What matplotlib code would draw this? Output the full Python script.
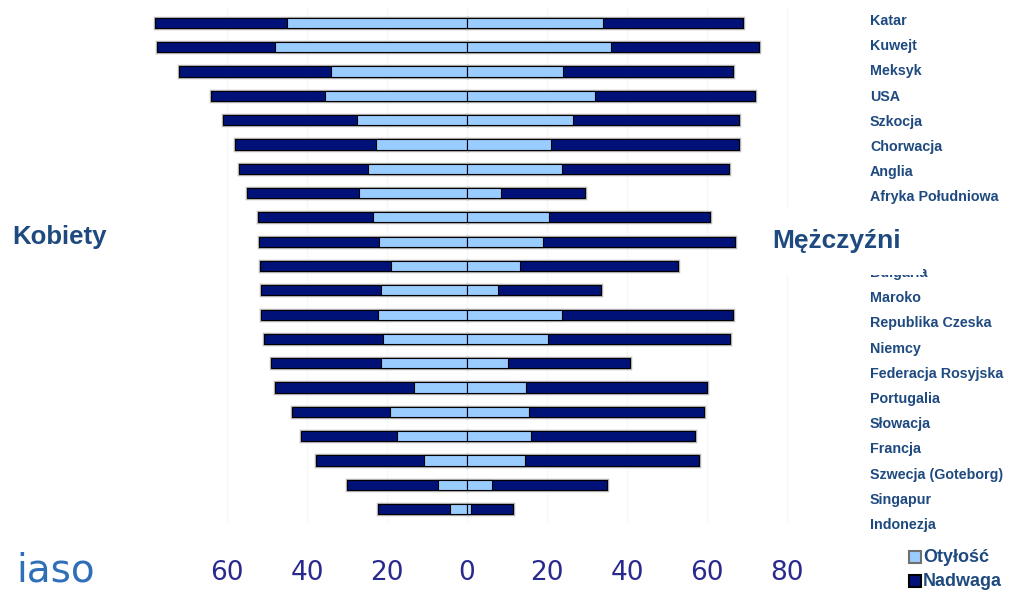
import numpy as np
import matplotlib.pyplot as plt
import matplotlib.patheffects as pe

# Data (percent)
countries = ["Katar", "Kuwejt", "Meksyk", "USA", "Szkocja", "Chorwacja", "Anglia",
             "Afryka Południowa", "", "", "Bułgaria", "Maroko", "Republika Czeska",
             "Niemcy", "Federacja Rosyjska", "Portugalia", "Słowacja", "Francja",
             "Szwecja (Goteborg)", "Singapur", "Indonezja"]
women_overweight = [78, 77.5, 72, 64, 61, 58, 57, 55, 52.3, 52, 51.7, 51.5, 51.5,
                    50.7, 49, 48, 43.8, 41.5, 37.8, 30, 22.2]
women_obese = [45, 48, 34, 35.5, 27.5, 22.7, 24.7, 27, 23.5, 22, 19, 21.5, 22.2,
               21, 21.5, 13.3, 19.2, 17.4, 10.8, 7.2, 4.2]
men_overweight = [69, 73, 66.5, 72, 68, 68, 65.5, 29.5, 60.7, 67, 52.8, 33.5, 66.5,
                  65.7, 40.8, 60, 59.3, 57, 58, 35, 11.5]
men_obese = [34, 36, 24, 32, 26.5, 21, 23.7, 8.5, 20.5, 19, 13.2, 7.8, 23.7,
             20.2, 10.2, 14.8, 15.5, 16, 14.5, 6.3, 1]
ticks = [-60, -40, -20, 0, 20, 40, 60, 80]

navy = "#001277"
light = "#99CCFF"
text_blue = "#1F4A80"

fig = plt.figure(figsize=(10.24, 5.92), dpi=100)
ax = fig.add_axes([139 / 1024, 1 - 523.6 / 592, 656 / 1024, (523.6 - 8.4) / 592])

y = np.arange(len(countries))
h = 0.42
shadow = [pe.Stroke(linewidth=2.5, foreground="#b8b8b8"), pe.Normal()]

ax.barh(y, -np.array(women_overweight), height=h, color=navy, edgecolor="black",
        linewidth=0.8, path_effects=shadow, zorder=2)
ax.barh(y, -np.array(women_obese), height=h, color=light, edgecolor="black",
        linewidth=0.8, zorder=3)
ax.barh(y, men_overweight, height=h, color=navy, edgecolor="black",
        linewidth=0.8, path_effects=shadow, zorder=2)
ax.barh(y, men_obese, height=h, color=light, edgecolor="black",
        linewidth=0.8, zorder=3)

ax.set_xlim(-82, 82)
ax.set_ylim(len(countries) - 0.4, -0.6)
ax.set_xticks(ticks)
ax.set_xticklabels([str(abs(t)) for t in ticks], fontsize=19, color="#2A2A8C",
                   family="DejaVu Sans")
ax.tick_params(axis="x", length=0, pad=26)
ax.set_yticks([])
for s in ax.spines.values():
    s.set_visible(False)
ax.grid(axis="x", color="#f4f7fc", linewidth=1, zorder=0)
ax.set_axisbelow(True)

# country labels: separate column, slightly different spacing than the bars
for i, name in enumerate(countries):
    if name:
        fig.text(870 / 1024, 1 - (21 + i * 25.2) / 592, name, ha="left", va="center",
                 fontsize=10.3, fontweight="bold", color=text_blue,
                 family="Liberation Sans")

fig.text(12 / 1024, 1 - 237 / 592, "Kobiety", ha="left", va="center", fontsize=18.5,
         fontweight="bold", color=text_blue, family="Liberation Sans")
fig.text(772 / 1024, 1 - 241 / 592, "Mężczyźni", ha="left", va="center", fontsize=19,
         fontweight="bold", color=text_blue, family="Liberation Sans", zorder=5,
         bbox=dict(facecolor="white", edgecolor="none", pad=16))

# legend
leg_items = [("Otyłość", light, "#707070", 557), ("Nadwaga", navy, "black", 581)]
for label, fc, ec, py in leg_items:
    fig.patches.append(plt.Rectangle((909 / 1024, 1 - (py + 6) / 592), 12 / 1024, 12 / 592,
                                     facecolor=fc, edgecolor=ec, linewidth=1.5,
                                     transform=fig.transFigure))
    fig.text(923 / 1024, 1 - py / 592, label, ha="left", va="center", fontsize=13,
             fontweight="bold", color=text_blue, family="Liberation Sans")

# logo text
fig.text(16 / 1024, 1 - 589 / 592, "iaso", ha="left", va="bottom", fontsize=28,
         color="#2F6FB8", family="DejaVu Sans")

fig.savefig("out.png", dpi=100, facecolor="white")
